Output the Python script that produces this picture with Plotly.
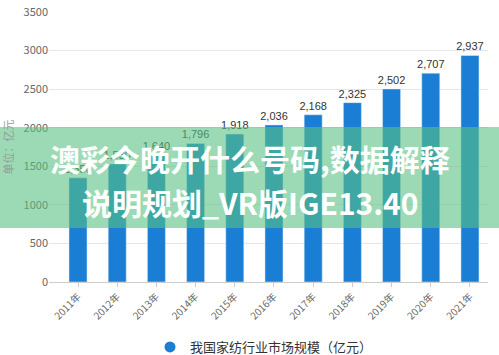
import plotly.graph_objects as go

years = ["2011年", "2012年", "2013年", "2014年", "2015年", "2016年",
         "2017年", "2018年", "2019年", "2020年", "2021年"]
values = [1350, 1530, 1640, 1796, 1918, 2036, 2168, 2325, 2502, 2707, 2937]
series_name = "我国家纺行业市场规模（亿元）"
y_title = "单位：亿元"
banner_lines = ["澳彩今晚开什么号码,数据解释", "说明规划_VR版IGE13.40"]

W, H = 499, 355
ml, mr, mt, mb = 49, 11, 12, 73
plot_w = W - ml - mr
plot_h = H - mt - mb

def px_to_paper_x(px):
    return (px - ml) / plot_w

def px_to_paper_y(py):
    return (H - mb - py) / plot_h

fig = go.Figure()
fig.add_trace(go.Bar(
    x=years, y=values, name=series_name,
    marker=dict(color="#1a7fd4"),
    width=0.46,
    text=[f"{v:,}" for v in values],
    textposition="outside",
    constraintext="none",
    textfont=dict(family="Liberation Sans, Arial", size=11, color="#333333"),
    cliponaxis=False,
    showlegend=False,
))
# legend entry with circular marker
fig.add_trace(go.Scatter(
    x=[None], y=[None], mode="markers", name=series_name,
    marker=dict(color="#1a7fd4", size=11, symbol="circle"),
    showlegend=True,
))

fig.update_layout(
    width=W, height=H,
    margin=dict(l=ml, r=mr, t=mt, b=mb, autoexpand=False),
    plot_bgcolor="white", paper_bgcolor="white",
    font=dict(family="Noto Sans CJK SC", color="#666666"),
    bargap=0.5,
    xaxis=dict(
        type="category", range=[-0.74, 10.46], automargin=False,
        tickangle=-45, tickfont=dict(size=10, color="#666666", family="Noto Sans CJK SC"),
        showline=True, linecolor="#cccccc", linewidth=1,
        ticks="outside", ticklen=4, tickcolor="#cccccc",
        showgrid=False,
    ),
    yaxis=dict(
        range=[0, 3500], dtick=500, automargin=False,
        tickfont=dict(size=11, color="#666666", family="Noto Sans CJK SC"),
        gridcolor="#e6e6e6", showline=False, zeroline=False,
        title=dict(text=y_title, font=dict(size=11, color="#999999"), standoff=8),
    ),
    legend=dict(
        orientation="h", x=px_to_paper_x(150), xanchor="left",
        y=px_to_paper_y(332), yanchor="top",
        font=dict(size=13, color="#333333"),
        itemwidth=30,
    ),
)

# translucent green banner
fig.add_shape(
    type="rect", xref="paper", yref="paper",
    x0=px_to_paper_x(-5), x1=px_to_paper_x(W + 5),
    y0=px_to_paper_y(228), y1=px_to_paper_y(127),
    fillcolor="rgba(88,193,130,0.6)", line=dict(width=0), layer="above",
)
for line, cy in zip(banner_lines, [158, 202]):
    fig.add_annotation(
        xref="paper", yref="paper",
        x=px_to_paper_x(250), y=px_to_paper_y(cy),
        text=f"<b>{line}</b>", showarrow=False,
        font=dict(family="Noto Sans CJK SC", size=30, color="white"),
        xanchor="center", yanchor="middle",
    )

fig.write_html(
    "out.html",
    config={"displayModeBar": False},
    post_script="document.body.style.margin='0';document.body.style.overflow='hidden';",
)
